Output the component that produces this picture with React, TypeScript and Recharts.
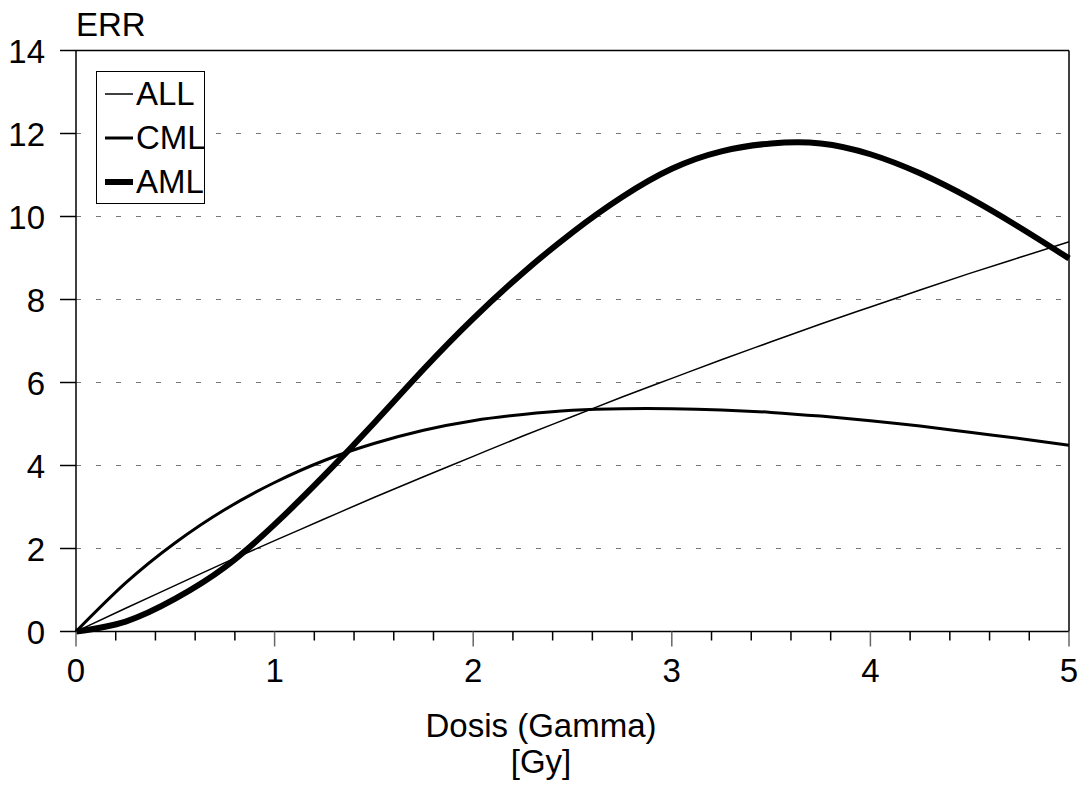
import { LineChart, Line, XAxis, YAxis, ReferenceLine } from 'recharts';

// dose (Gy) sample points
const doses = [0, 0.25, 0.5, 0.75, 1, 1.25, 1.5, 1.75, 2, 2.25, 2.5, 2.75, 3, 3.25, 3.5, 3.75, 4, 4.25, 4.5, 4.75, 5];
const allValues = [0, 0.56, 1.11, 1.66, 2.19, 2.71, 3.23, 3.73, 4.22, 4.71, 5.18, 5.65, 6.1, 6.55, 6.98, 7.41, 7.82, 8.23, 8.63, 9.01, 9.39];
const cmlValues = [0, 1.17, 2.14, 2.94, 3.59, 4.12, 4.53, 4.85, 5.08, 5.23, 5.33, 5.37, 5.37, 5.34, 5.28, 5.19, 5.08, 4.95, 4.8, 4.65, 4.49];
const amlValues = [0, 0.24, 0.79, 1.55, 2.58, 3.76, 5.02, 6.32, 7.54, 8.64, 9.62, 10.47, 11.15, 11.57, 11.76, 11.76, 11.5, 11.04, 10.44, 9.74, 8.99];

const xTicks = [0, 0.2, 0.4, 0.6, 0.8, 1, 1.2, 1.4, 1.6, 1.8, 2, 2.2, 2.4, 2.6, 2.8, 3, 3.2, 3.4, 3.6, 3.8, 4, 4.2, 4.4, 4.6, 4.8, 5];
const yTicks = [0, 2, 4, 6, 8, 10, 12, 14];
const gridValues = [2, 4, 6, 8, 10, 12];

const series = [
  { key: 'ALL', width: 1.5 },
  { key: 'CML', width: 3 },
  { key: 'AML', width: 6 },
];

const FONT = '"Liberation Sans", Arial, Helvetica, sans-serif';
const FS = 33;

const data = doses.map((d, i) => ({
  dose: d,
  ALL: allValues[i],
  CML: cmlValues[i],
  AML: amlValues[i],
}));

function XTick(props: any) {
  const { x, y, payload } = props;
  const v = payload.value;
  const major = Math.abs(v - Math.round(v)) < 1e-6;
  return (
    <g>
      <line x1={x} x2={x} y1={y} y2={y + (major ? 15 : 9)} stroke={major ? '#666' : '#000'} strokeWidth={1.5} />
      {major && (
        <text x={x} y={y + 50} textAnchor="middle" fontSize={FS} fontFamily={FONT} fill="#000">
          {Math.round(v)}
        </text>
      )}
    </g>
  );
}

function YTick(props: any) {
  const { x, y, payload } = props;
  return (
    <g>
      <line x1={x - 16} x2={x} y1={y} y2={y} stroke="#000" strokeWidth={1.5} />
      <text x={x - 31} y={y + 12} textAnchor="end" fontSize={FS} fontFamily={FONT} fill="#000">
        {payload.value}
      </text>
    </g>
  );
}

function ChartLegend() {
  return (
    <div
      style={{
        position: 'absolute',
        left: 96,
        top: 71,
        width: 107,
        height: 131,
        border: '1.5px solid #000',
        background: '#fff',
        fontFamily: FONT,
        fontSize: FS,
      }}
    >
      {series.map((s) => (
        <div key={s.key} style={{ height: 44, display: 'flex', alignItems: 'center', whiteSpace: 'nowrap' }}>
          <svg width={38} height={10} style={{ flex: 'none' }}>
            <line x1={8} x2={36} y1={5} y2={5} stroke="#000" strokeWidth={s.width} />
          </svg>
          <span style={{ marginLeft: 1 }}>{s.key}</span>
        </div>
      ))}
    </div>
  );
}

export default function App() {
  return (
    <div style={{ position: 'relative', width: 1082, height: 787, overflow: 'hidden', background: '#fff' }}>
      <style>{'body { margin: 0; }'}</style>
      <div style={{ position: 'absolute', left: 8, top: 0 }}>
        <LineChart width={1074} height={787} data={data} margin={{ top: 50.5, right: 13, bottom: 95.5, left: 0 }}>
          <XAxis
            dataKey="dose"
            type="number"
            domain={[0, 5]}
            ticks={xTicks}
            interval={0}
            tickSize={0}
            tickMargin={0}
            tickLine={false}
            tick={<XTick />}
            height={60}
            axisLine={{ stroke: '#000', strokeWidth: 1.5 }}
            label={() => (
              <g>
                <text x={533} y={737} textAnchor="middle" fontSize={FS} fontFamily={FONT} fill="#000">
                  Dosis (Gamma)
                </text>
                <text x={533} y={773} textAnchor="middle" fontSize={FS} fontFamily={FONT} fill="#000">
                  [Gy]
                </text>
              </g>
            )}
          />
          <YAxis
            type="number"
            domain={[0, 14]}
            ticks={yTicks}
            interval={0}
            width={68}
            tickSize={0}
            tickMargin={0}
            tickLine={false}
            tick={<YTick />}
            axisLine={{ stroke: '#000', strokeWidth: 1.5 }}
            label={() => (
              <text x={68} y={36} fontSize={FS} fontFamily={FONT} fill="#000">
                ERR
              </text>
            )}
          />
          {gridValues.map((g) => (
            <ReferenceLine key={g} y={g} stroke="#777" strokeWidth={1} strokeDasharray="5 15" />
          ))}
          <ReferenceLine y={14} stroke="#000" strokeWidth={1.5} />
          <ReferenceLine x={5} stroke="#000" strokeWidth={1.5} />
          {series.map((s) => (
            <Line
              key={s.key}
              type="natural"
              dataKey={s.key}
              stroke="#000"
              strokeWidth={s.width}
              dot={false}
              isAnimationActive={false}
            />
          ))}
        </LineChart>
      </div>
      <ChartLegend />
    </div>
  );
}
